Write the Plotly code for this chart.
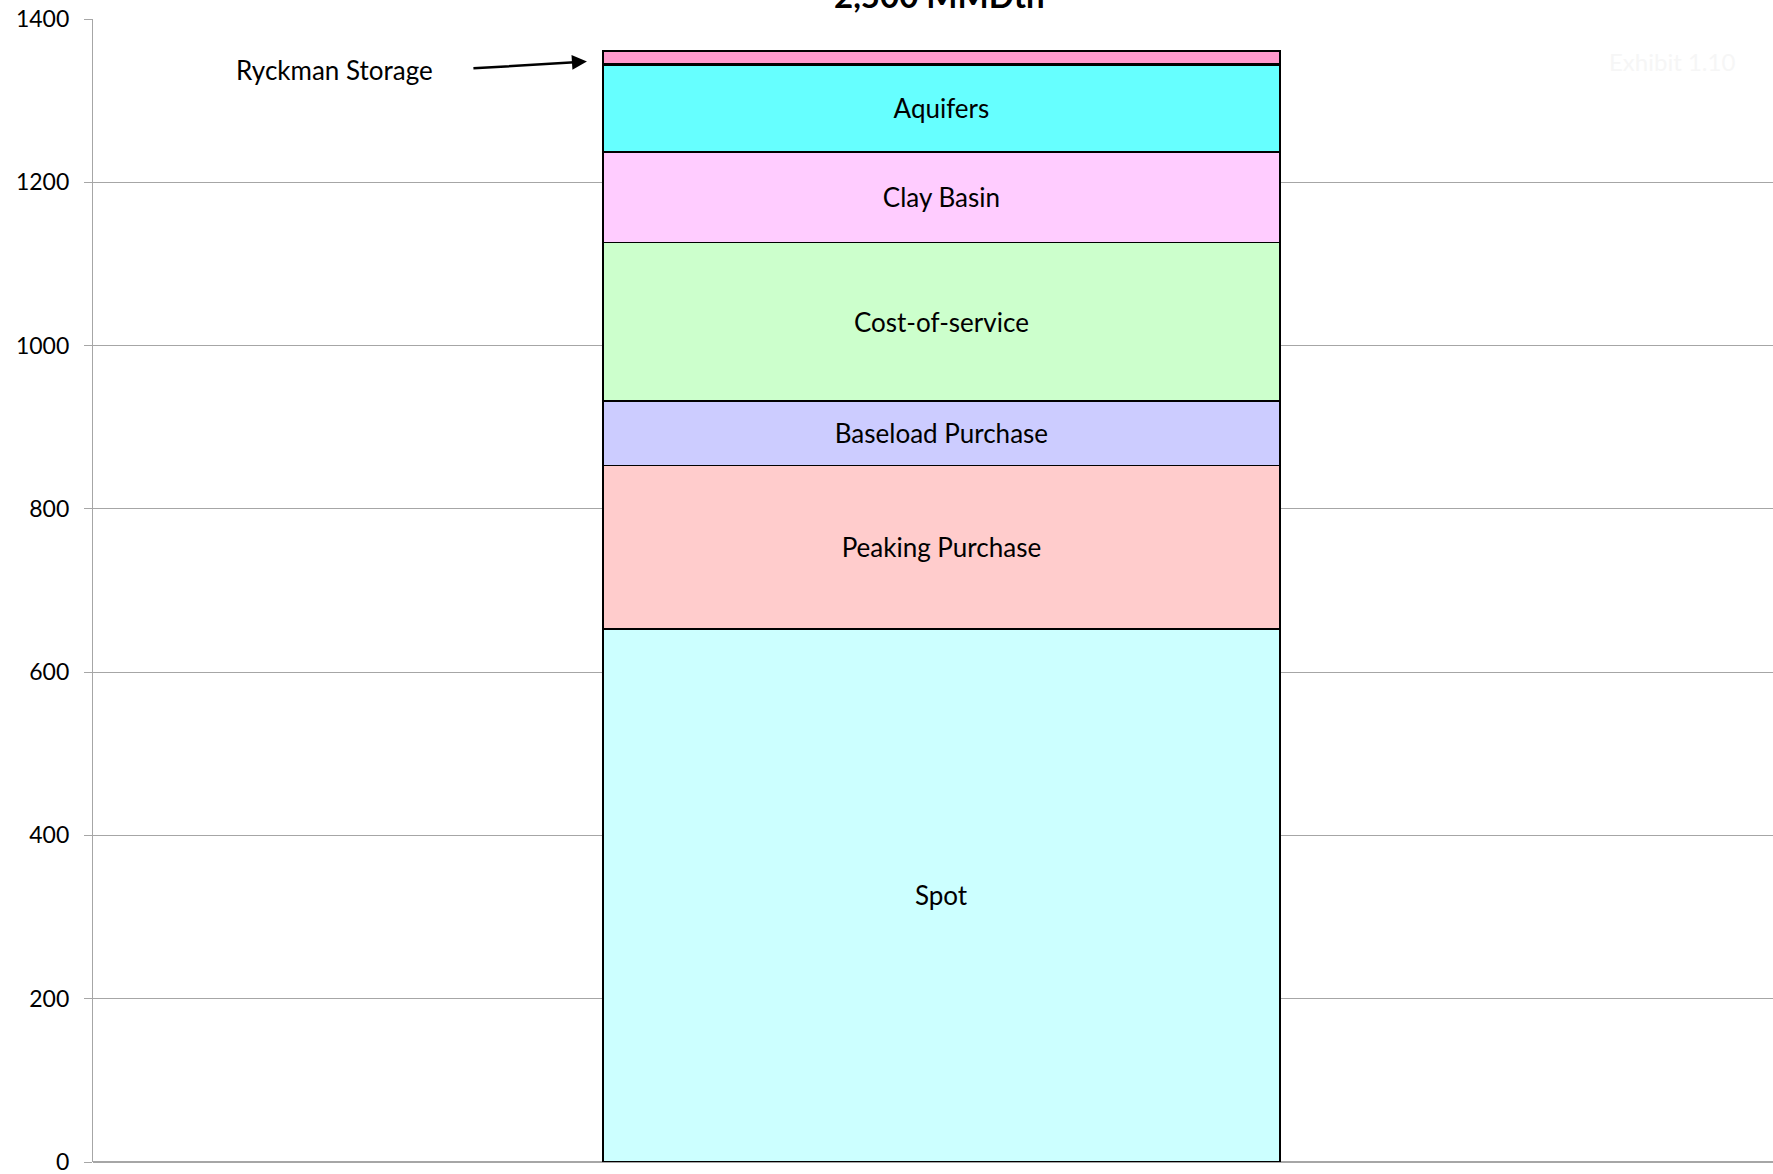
import plotly.graph_objects as go

# Supply stack, bottom to top (MDth/day)
sources = ["Spot", "Peaking Purchase", "Baseload Purchase", "Cost-of-service",
           "Clay Basin", "Aquifers", "Ryckman Storage"]
volumes = [653, 200, 79, 194, 111, 107, 17]
fills = ["#ccffff", "#ffcccc", "#ccccff", "#ccffcc", "#ffccff", "#66ffff", "#ff99cc"]
labels = ["Spot", "Peaking Purchase", "Baseload Purchase", "Cost-of-service",
          "Clay Basin", "Aquifers", ""]

FONT = "Lato, 'Open Sans', sans-serif"

fig = go.Figure()
for name, v, c, lab in zip(sources, volumes, fills, labels):
    fig.add_trace(go.Bar(
        x=[0],
        y=[v],
        name=name,
        width=0.403,
        marker=dict(color=c, line=dict(color="#000000",
                                       width=2.5 if name == "Ryckman Storage" else 1.3)),
        text=[lab],
        textposition="inside",
        insidetextanchor="middle",
        textangle=0,
        insidetextfont=dict(family=FONT, size=26, color="#000000"),
        showlegend=False,
        hoverinfo="name+y",
    ))

fig.update_layout(
    barmode="stack",
    width=1773,
    height=1174,
    margin=dict(l=93, r=0, t=19, b=12),
    paper_bgcolor="white",
    plot_bgcolor="white",
    font=dict(family=FONT, size=23, color="#000000"),
    uniformtext=dict(minsize=26, mode="show"),
    xaxis=dict(range=[-0.505, 0.495], showticklabels=False, showgrid=False,
               zeroline=False, showline=False),
    yaxis=dict(range=[0, 1400], dtick=200, showgrid=True, gridcolor="#a6a6a6",
               gridwidth=1.3, zeroline=True, zerolinecolor="#a6a6a6", zerolinewidth=1.5,
               showline=True, linecolor="#a6a6a6", linewidth=1.3,
               ticks="outside", ticklen=8, tickcolor="#a6a6a6",
               ticklabelstandoff=10, ticklabeloverflow="allow",
               tickfont=dict(family=FONT, size=23, color="#000000")),
)

top = sum(volumes)

# Chart title, clipped at the top edge like the source
fig.add_annotation(text="<b>2,500 MMDth</b>", xref="paper", yref="paper",
                   x=0.504, y=1, yanchor="bottom", yshift=2, showarrow=False,
                   font=dict(family=FONT, size=33, color="#000000"))

# Callout for the thin top segment
fig.add_annotation(text="Ryckman Storage", xref="paper", yref="y",
                   x=(334 - 93) / 1680, xanchor="center", y=top - 23,
                   showarrow=False, font=dict(family=FONT, size=26, color="#000000"))
fig.add_annotation(x=-0.211, y=top - 13, xref="x", yref="y",
                   ax=-115, ay=7, axref="pixel", ayref="pixel",
                   showarrow=True, arrowhead=2, arrowsize=1.2, arrowwidth=2.5,
                   arrowcolor="#000000", text="")

# Very faint watermark in the corner
fig.add_annotation(text="Exhibit 1.10", xref="paper", yref="paper",
                   x=0.9786, xanchor="right", y=0.977, showarrow=False,
                   font=dict(family=FONT, size=24, color="#f6f6f6"))

fig.write_html("out.html", config={"displayModeBar": False},
               post_script="document.body.style.margin='0';")
